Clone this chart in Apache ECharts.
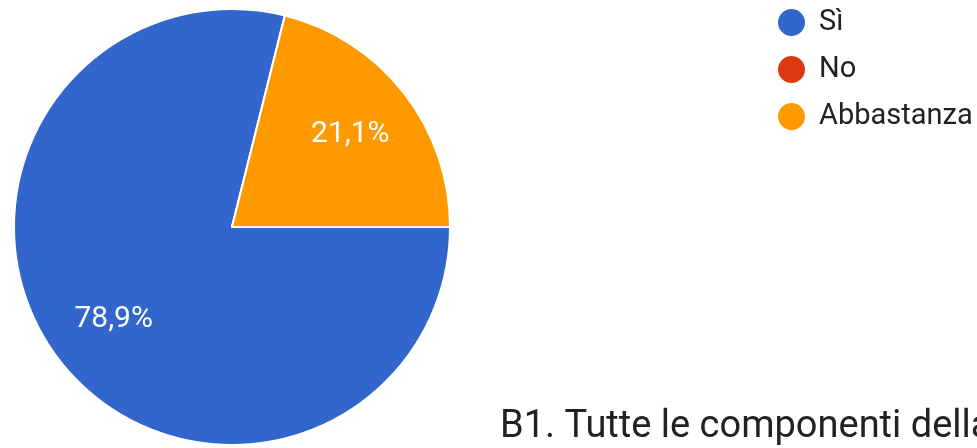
<!DOCTYPE html>
<html>
<head>
<meta charset="utf-8">
<script src="https://cdn.jsdelivr.net/npm/echarts@6/dist/echarts.min.js"></script>
<style>
  html, body { margin: 0; padding: 0; background: #fff; }
  #chart { width: 977px; height: 448px; }
</style>
</head>
<body>
<div id="chart"></div>
<script>
// Answer shares for question B1
const categories = ['Sì', 'No', 'Abbastanza'];
const shares = [78.9, 0, 21.1];
const colors = ['#3366cc', '#dc3912', '#ff9900'];
const titleText = 'B1. Tutte le componenti della';

const slices = categories.map((name, i) => ({
  name: name,
  value: shares[i],
  itemStyle: { color: colors[i] }
}));

const chart = echarts.init(document.getElementById('chart'));
const fontFamily = 'Roboto, "Noto Sans", sans-serif';
const R = 218;

chart.setOption({
  animation: false,
  title: {
    text: titleText,
    left: 495,
    top: 403,
    textStyle: { fontFamily, fontSize: 38, fontWeight: 'normal', color: '#222222' }
  },
  legend: {
    orient: 'vertical',
    left: 771,
    top: 2,
    icon: 'circle',
    itemWidth: 29,
    itemHeight: 29,
    itemGap: 16,
    data: categories,
    textStyle: { fontFamily, fontSize: 29, color: '#222222', padding: [0, 0, 0, 8] }
  },
  series: [
    {
      type: 'pie',
      center: [232, 227],
      radius: [0, R],
      startAngle: 0,
      clockwise: true,
      minAngle: 0,
      silent: true,
      label: { show: false },
      labelLine: { show: false },
      itemStyle: { borderColor: '#ffffff', borderWidth: 2 },
      data: slices
    },
    {
      // transparent ring used only to place the percentage labels
      type: 'pie',
      center: [232, 227],
      radius: [R * 0.35, R],
      startAngle: 0,
      clockwise: true,
      silent: true,
      legendHoverLink: false,
      itemStyle: { color: 'rgba(0,0,0,0)' },
      label: {
        show: true,
        position: 'inside',
        fontFamily,
        fontSize: 30,
        color: '#ffffff',
        formatter: p => p.value > 0 ? p.value.toFixed(1).replace('.', ',') + '%' : ''
      },
      labelLine: { show: false },
      data: categories.map((name, i) => ({ name: name, value: shares[i] }))
    }
  ]
});
</script>
</body>
</html>
